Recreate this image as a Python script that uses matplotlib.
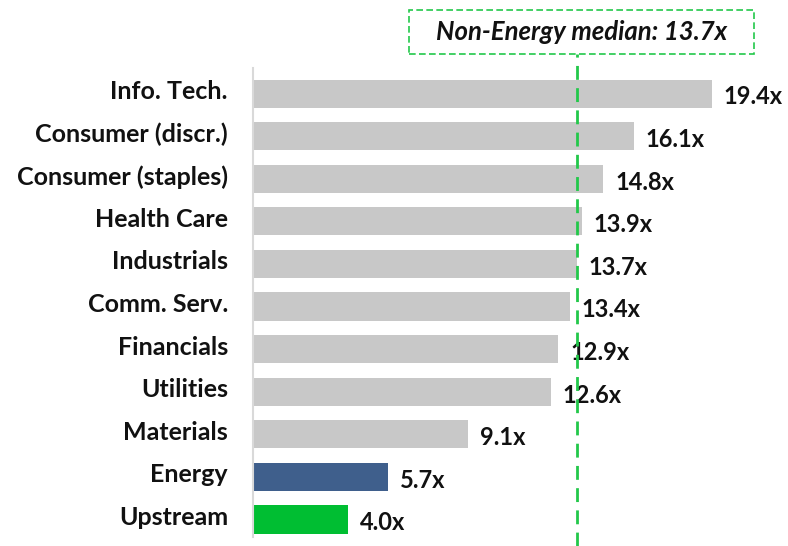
import matplotlib.pyplot as plt
import matplotlib.transforms as mtransforms
from matplotlib.patches import Rectangle
import numpy as np

# data
sectors = ["Info. Tech.", "Consumer (discr.)", "Consumer (staples)", "Health Care",
           "Industrials", "Comm. Serv.", "Financials", "Utilities", "Materials",
           "Energy", "Upstream"]
multiples = [19.4, 16.1, 14.8, 13.9, 13.7, 13.4, 12.9, 12.6, 9.1, 5.7, 4.0]
bar_colors = ["#c8c8c8"] * 9 + ["#3f5f8c", "#00be32"]
median_value = 13.7
median_label = "Non-Energy median: 13.7x"

plt.rcParams["font.family"] = ["Lato", "DejaVu Sans"]

fig = plt.figure(figsize=(7.88, 5.46), dpi=100)
W, H = 788, 546
ax = fig.add_axes([253 / W, 9 / H, (W - 253) / W, (537 - 68) / H])

y = np.arange(len(sectors))
ax.barh(y, multiples, height=0.66, color=bar_colors)

ax.set_xlim(0, (W - 253) / 23.66)
ax.set_ylim(10.41, -0.6)

for yi, v in zip(y, multiples):
    ax.text(v + 0.5, yi + 0.08, f"{v:.1f}x", va="center", ha="left",
            fontsize=17, fontweight="bold", color="#111111")

ax.set_yticks(y)
ax.set_yticklabels(sectors, fontsize=18, fontweight="bold", color="#111111")
ax.tick_params(axis="y", length=0, pad=18)
shift = mtransforms.ScaledTranslation(0, 4 / 100, fig.dpi_scale_trans)
for lab in ax.get_yticklabels():
    lab.set_transform(lab.get_transform() + shift)
ax.set_xticks([])

for s in ["top", "right", "bottom"]:
    ax.spines[s].set_visible(False)
ax.spines["left"].set_color("#d9d9d9")
ax.spines["left"].set_linewidth(1.5)

# median line
ax.axvline(median_value, ymin=-0.02, ymax=1.03, color="#22c84a", lw=2,
           ls=(0, (5, 3)), clip_on=False, zorder=3)

# median box
fig.patches.append(Rectangle((409 / W, 1 - 54 / H), (754 - 409) / W, 44 / H,
                             transform=fig.transFigure, fc="white", ec="#22c84a",
                             ls=(0, (4, 2)), lw=1.2))
fig.text(582 / W, 1 - 32 / H, median_label, ha="center", va="center",
         fontsize=18.5, fontweight="bold", fontstyle="italic", color="#111111")

fig.savefig("out.png", dpi=100)
